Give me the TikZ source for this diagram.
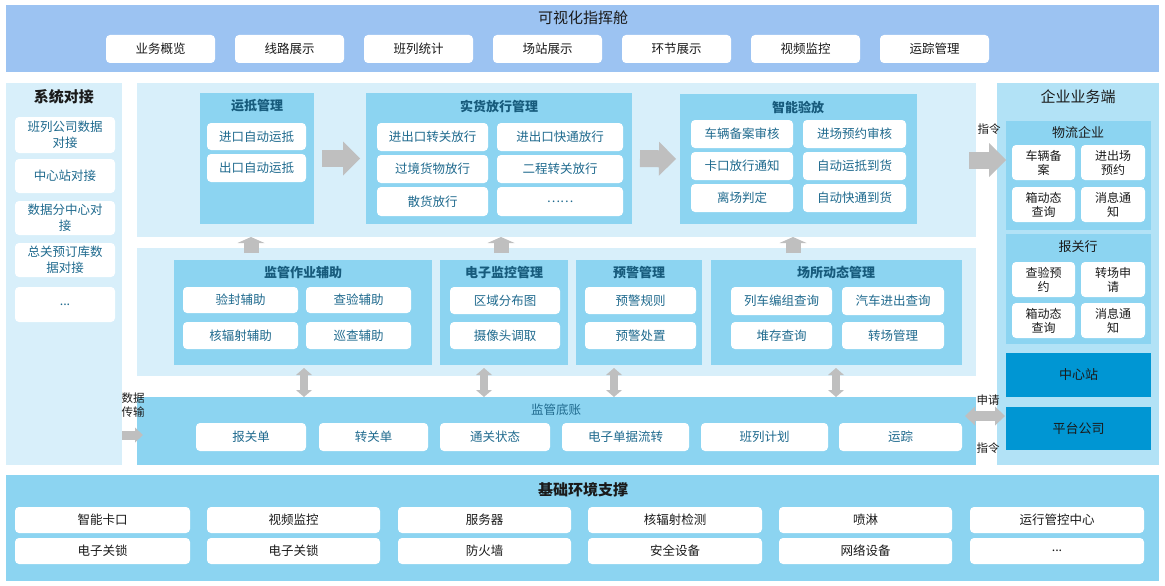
\documentclass[tikz,border=0pt]{standalone}
\usepackage{fontspec}
\setmainfont{Noto Sans CJK SC}
\usetikzlibrary{arrows.meta}
\definecolor{topc}{HTML}{9CC3F2}
\definecolor{lightc}{HTML}{D8EFFA}
\definecolor{midc}{HTML}{8CD4F1}
\definecolor{rightc}{HTML}{B2E2F6}
\definecolor{darkc}{HTML}{0096D3}
\definecolor{tealc}{HTML}{1F6A8E}
\definecolor{titc}{HTML}{175B7C}
\definecolor{arrc}{HTML}{BFBFBF}
\definecolor{txtc}{HTML}{1A1A1A}
\newcommand\bx[7]{\node[#6, anchor=north west, minimum width={(#4-#2)*1pt}, minimum height={(#5-#3)*1pt}] (#1) at (#2,#3) {#7};}
\tikzset{
  topband/.style={fill=topc, inner sep=0pt, outer sep=0pt},
  area/.style={fill=lightc, inner sep=0pt, outer sep=0pt},
  rarea/.style={fill=rightc, inner sep=0pt, outer sep=0pt},
  grp/.style={fill=midc, inner sep=0pt, outer sep=0pt},
  dark/.style={fill=darkc, inner sep=0pt, outer sep=0pt, text=txtc, font=\fontsize{13}{15}\selectfont},
  itm/.style={fill=white, rounded corners=4pt, inner sep=0pt, outer sep=0pt, text=tealc, align=center, font=\fontsize{12.5}{16}\selectfont},
  btn/.style={itm, text=txtc},
  ritm/.style={itm, text=txtc, font=\fontsize{12}{14}\selectfont},
  gtit/.style={text=titc, inner sep=0pt, font=\bfseries\fontsize{13}{15}\selectfont},
  ttl/.style={text=txtc, inner sep=0pt, font=\fontsize{15}{17}\selectfont},
  ttlb/.style={text=txtc, inner sep=0pt, font=\bfseries\fontsize{15}{17}\selectfont},
  lbl/.style={text=txtc, inner sep=0pt, align=center, font=\fontsize{11.5}{14}\selectfont},
  bigarr/.style={draw=arrc, line width=17pt, -{Triangle[length=17pt,width=34pt,line width=0pt]}},
  uparr/.style={draw=arrc, line width=15pt, -{Triangle[length=6pt,width=27pt,line width=0pt]}},
  varr/.style={draw=arrc, line width=8pt, {Triangle[length=7pt,width=16pt,line width=0pt]}-{Triangle[length=7pt,width=16pt,line width=0pt]}},
  harr/.style={draw=arrc, line width=10pt, {Triangle[length=10pt,width=19pt,line width=0pt]}-{Triangle[length=10pt,width=19pt,line width=0pt]}},
  darr/.style={draw=arrc, line width=9pt, -{Triangle[length=8pt,width=15pt,line width=0pt]}},
}
\begin{document}
\begin{tikzpicture}[x=1pt,y=-1pt]
\useasboundingbox (0,0) rectangle (1165,586);
% ---------- top band
\bx{top}{6}{5}{1159}{72}{topband}{}
\node[ttl] (topT) at (583,18) {可视化指挥舱};
\bx{b1}{106}{35}{215}{63}{btn}{业务概览}
\bx{b2}{235}{35}{344}{63}{btn}{线路展示}
\bx{b3}{364}{35}{473}{63}{btn}{班列统计}
\bx{b4}{493}{35}{602}{63}{btn}{场站展示}
\bx{b5}{622}{35}{731}{63}{btn}{环节展示}
\bx{b6}{751}{35}{860}{63}{btn}{视频监控}
\bx{b7}{880}{35}{989}{63}{btn}{运踪管理}
% ---------- left panel
\bx{left}{6}{83}{122}{465}{area}{}
\node[ttlb] (leftT) at (64,97) {系统对接};
\bx{l1}{15}{117}{115}{153}{itm}{班列公司数据\\对接}
\bx{l2}{15}{159}{115}{193}{itm}{中心站对接}
\bx{l3}{15}{201}{115}{235}{itm}{数据分中心对\\接}
\bx{l4}{15}{243}{115}{277}{itm}{总关预订库数\\据对接}
\bx{l5}{15}{287}{115}{322}{itm}{...}
% ---------- upper area
\bx{up}{137}{83}{976}{237}{area}{}
\bx{ydgl}{200}{93}{314}{224}{grp}{}
\node[gtit] (ydglT) at (257,106) {运抵管理};
\bx{y1}{207}{123}{306}{150}{itm}{进口自动运抵}
\bx{y2}{207}{154}{306}{182}{itm}{出口自动运抵}
\bx{shfx}{366}{93}{632}{224}{grp}{}
\node[gtit] (shfxT) at (499,106) {实货放行管理};
\bx{s1}{377}{123}{488}{151}{itm}{进出口转关放行}
\bx{s2}{497}{123}{623}{151}{itm}{进出口快通放行}
\bx{s3}{377}{155}{488}{183}{itm}{过境货物放行}
\bx{s4}{497}{155}{623}{183}{itm}{二程转关放行}
\bx{s5}{377}{187}{488}{216}{itm}{散货放行}
\bx{s6}{497}{187}{623}{216}{itm}{……}
\bx{znyf}{680}{94}{917}{224}{grp}{}
\node[gtit] (znyfT) at (798,107) {智能验放};
\bx{z1}{691}{120}{793}{148}{itm}{车辆备案审核}
\bx{z2}{803}{120}{906}{148}{itm}{进场预约审核}
\bx{z3}{691}{152}{793}{180}{itm}{卡口放行通知}
\bx{z4}{803}{152}{906}{180}{itm}{自动运抵到货}
\bx{z5}{691}{184}{793}{212}{itm}{离场判定}
\bx{z6}{803}{184}{906}{212}{itm}{自动快通到货}
% ---------- middle area
\bx{mid}{137}{248}{976}{376}{area}{}
\bx{jgzy}{174}{260}{432}{365}{grp}{}
\node[gtit] (jgzyT) at (303,273) {监管作业辅助};
\bx{j1}{183}{287}{298}{313}{itm}{验封辅助}
\bx{j2}{306}{287}{411}{313}{itm}{查验辅助}
\bx{j3}{183}{322}{298}{349}{itm}{核辐射辅助}
\bx{j4}{306}{322}{411}{349}{itm}{巡查辅助}
\bx{dzjk}{440}{260}{568}{365}{grp}{}
\node[gtit] (dzjkT) at (504,273) {电子监控管理};
\bx{e1}{450}{287}{560}{314}{itm}{区域分布图}
\bx{e2}{450}{322}{560}{349}{itm}{摄像头调取}
\bx{yjgl}{576}{260}{702}{365}{grp}{}
\node[gtit] (yjglT) at (639,273) {预警管理};
\bx{w1}{585}{287}{696}{314}{itm}{预警规则}
\bx{w2}{585}{322}{696}{349}{itm}{预警处置}
\bx{csdt}{711}{260}{962}{365}{grp}{}
\node[gtit] (csdtT) at (836,273) {场所动态管理};
\bx{c1}{731}{287}{832}{315}{itm}{列车编组查询}
\bx{c2}{842}{287}{944}{315}{itm}{汽车进出查询}
\bx{c3}{731}{322}{832}{349}{itm}{堆存查询}
\bx{c4}{842}{322}{944}{349}{itm}{转场管理}
% ---------- 监管底账
\bx{dz}{137}{397}{976}{465}{grp}{}
\node[text=tealc, inner sep=0pt, font=\fontsize{12.5}{15}\selectfont] (dzT) at (556,410) {监管底账};
\bx{d1}{196}{423}{306}{451}{itm}{报关单}
\bx{d2}{319}{423}{428}{451}{itm}{转关单}
\bx{d3}{440}{423}{550}{451}{itm}{通关状态}
\bx{d4}{562}{423}{689}{451}{itm}{电子单据流转}
\bx{d5}{701}{423}{828}{451}{itm}{班列计划}
\bx{d6}{839}{423}{962}{451}{itm}{运踪}
% ---------- right panel
\bx{right}{997}{83}{1159}{465}{rarea}{}
\node[ttl] (rightT) at (1078,97) {企业业务端};
\bx{wl}{1006}{121}{1151}{230}{grp}{}
\node[text=txtc, inner sep=0pt, font=\fontsize{13}{15}\selectfont] (wlT) at (1078,133) {物流企业};
\bx{r1}{1012}{145}{1075}{180}{ritm}{车辆备\\案}
\bx{r2}{1081}{145}{1145}{180}{ritm}{进出场\\预约}
\bx{r3}{1012}{187}{1075}{222}{ritm}{箱动态\\查询}
\bx{r4}{1081}{187}{1145}{222}{ritm}{消息通\\知}
\bx{bgh}{1006}{234}{1151}{344}{grp}{}
\node[text=txtc, inner sep=0pt, font=\fontsize{13}{15}\selectfont] (bghT) at (1078,247) {报关行};
\bx{q1}{1012}{262}{1075}{297}{ritm}{查验预\\约}
\bx{q2}{1081}{262}{1145}{297}{ritm}{转场申\\请}
\bx{q3}{1012}{303}{1075}{338}{ritm}{箱动态\\查询}
\bx{q4}{1081}{303}{1145}{338}{ritm}{消息通\\知}
\bx{zxz}{1006}{353}{1151}{397}{dark}{中心站}
\bx{plat}{1006}{407}{1151}{450}{dark}{平台公司}
% ---------- base
\bx{base}{6}{475}{1159}{581}{grp}{}
\node[ttlb] (baseT) at (583,490) {基础环境支撑};
\bx{f1}{15}{507}{190}{533}{btn}{智能卡口}
\bx{f2}{207}{507}{380}{533}{btn}{视频监控}
\bx{f3}{398}{507}{571}{533}{btn}{服务器}
\bx{f4}{588}{507}{762}{533}{btn}{核辐射检测}
\bx{f5}{779}{507}{952}{533}{btn}{喷淋}
\bx{f6}{970}{507}{1144}{533}{btn}{运行管控中心}
\bx{g1}{15}{538}{190}{564}{btn}{电子关锁}
\bx{g2}{207}{538}{380}{564}{btn}{电子关锁}
\bx{g3}{398}{538}{571}{564}{btn}{防火墙}
\bx{g4}{588}{538}{762}{564}{btn}{安全设备}
\bx{g5}{779}{538}{952}{564}{btn}{网络设备}
\bx{g6}{970}{538}{1144}{564}{btn}{...}
% ---------- labels
\node[lbl] (lblData) at (133,405) {数据\\传输};
\node[lbl] (lblCmd1) at (989,129) {指令};
\node[lbl] (lblReq) at (988,400) {申请};
\node[lbl] (lblCmd2) at (988,448) {指令};
% ---------- connectors
\coordinate (ua1) at (251,0);
\coordinate (ua2) at (501,0);
\coordinate (ua3) at (793,0);
\coordinate (va1) at (304,0);
\coordinate (va2) at (484,0);
\coordinate (va3) at (614,0);
\coordinate (va4) at (836,0);
\coordinate (ha) at (0,416);
\coordinate (da) at (0,435);
\draw[bigarr] ([xshift=8pt]ydgl.east) -- ([xshift=-6pt]shfx.west);
\draw[bigarr] ([xshift=8pt]shfx.east) -- ([xshift=-4pt]znyf.west);
\draw[bigarr] ([xshift=-7pt]up.east) -- (up.east -| wl.west);
\foreach \c in {ua1,ua2,ua3}{\draw[uparr] ([yshift=-5pt]mid.north -| \c) -- (up.south -| \c);}
\foreach \c in {va1,va2,va3,va4}{\draw[varr] ([yshift=8pt]mid.south -| \c) -- (dz.north -| \c);}
\draw[harr] ([xshift=-11pt]dz.east |- ha) -- ([xshift=-1pt]plat.west |- ha);
\draw[darr] (left.east |- da) -- ([xshift=6pt]dz.west |- da);
\end{tikzpicture}
\end{document}
